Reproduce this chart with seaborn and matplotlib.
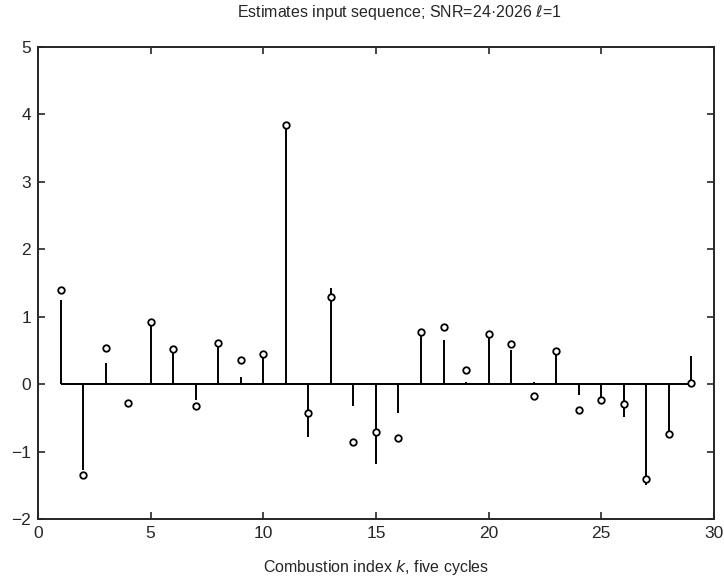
import matplotlib
matplotlib.use("Agg")
import matplotlib.pyplot as plt
import seaborn as sns
import pandas as pd

k = list(range(1, 30))
stem_values = [1.25, -1.28, 0.31, 0.0, 0.90, 0.50, -0.24, 0.58, 0.11, 0.42,
               3.82, -0.78, 1.43, -0.33, -1.19, -0.43, 0.76, 0.65, 0.03, 0.72,
               0.51, 0.03, 0.47, -0.16, -0.30, -0.48, -1.50, -0.72, 0.42]
estimates = [1.39, -1.34, 0.54, -0.28, 0.92, 0.52, -0.33, 0.61, 0.36, 0.44,
             3.84, -0.43, 1.30, -0.86, -0.71, -0.80, 0.78, 0.85, 0.21, 0.74,
             0.60, -0.17, 0.49, -0.38, -0.24, -0.29, -1.41, -0.74, 0.01]
x_ticks = [0, 5, 10, 15, 20, 25, 30]
y_ticks = [-2, -1, 0, 1, 2, 3, 4, 5]

df = pd.DataFrame({"k": k, "stem": stem_values, "est": estimates})

sns.set_style("ticks")
plt.rcParams['font.family'] = ['Liberation Sans', 'DejaVu Sans']

fig = plt.figure(figsize=(7.24, 5.77), dpi=100)
ax = fig.add_axes([0.0525, 0.1005, 0.9335, 0.818])

ax.vlines(df["k"], 0, df["stem"], color="black", linewidth=1.4)
ax.hlines(0, df["k"].min(), df["k"].max(), color="black", linewidth=1.4)
sns.scatterplot(data=df, x="k", y="est", ax=ax, marker="o", s=22,
                facecolor="white", edgecolor="black", linewidth=1.3, zorder=3)

ax.set_xlim(0, 30)
ax.set_ylim(-2, 5)
ax.set_xticks(x_ticks)
ax.set_yticks(y_ticks)
ax.set_xticklabels([str(t) for t in x_ticks], fontsize=12.5)
ax.set_yticklabels([str(t) if t >= 0 else "\u2212" + str(-t) for t in y_ticks], fontsize=12.5)
ax.tick_params(direction="in", top=True, right=True, length=5, width=1.2, pad=5)
for s in ax.spines.values():
    s.set_linewidth(1.4)
    s.set_visible(True)

ax.set_xlabel("Combustion index $k$, five cycles", fontsize=11.5, labelpad=12)
ax.set_ylabel("")
fig.text(0.552, 0.978, "Estimates input sequence; SNR=24\u00b72026 $\\ell$=1",
         ha="center", va="center", fontsize=11.5)

fig.savefig("out.png", dpi=100)
